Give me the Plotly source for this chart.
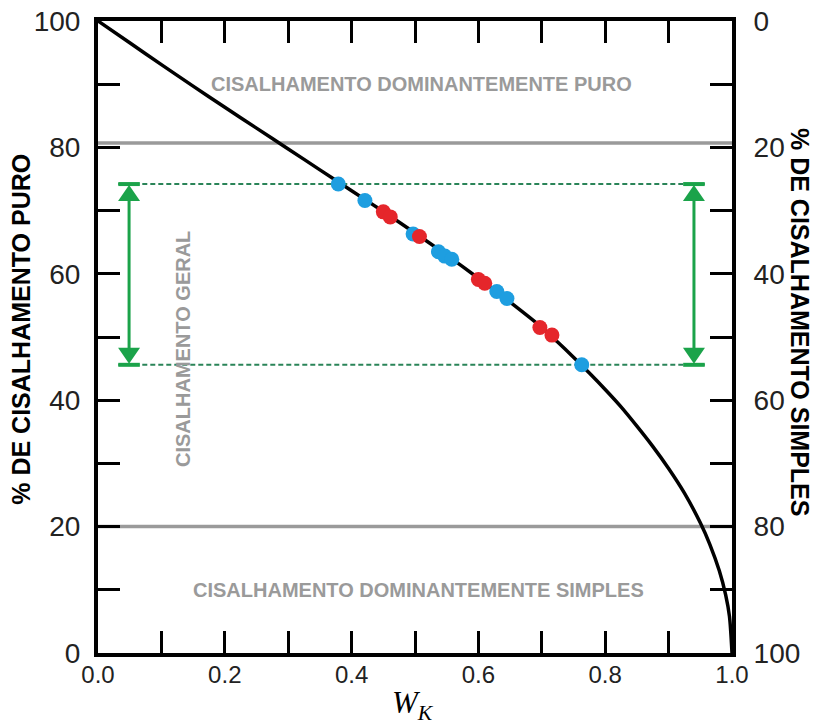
import plotly.graph_objects as go

# ---- data ----
curve_wk = [0.0, 0.05, 0.10, 0.15, 0.20, 0.25, 0.30, 0.35, 0.40, 0.45, 0.50, 0.55,
            0.60, 0.65, 0.70, 0.725, 0.75, 0.775, 0.80, 0.825, 0.85, 0.875, 0.90, 0.925,
            0.95, 0.965, 0.98, 0.99, 0.996, 1.0]
curve_pct = [100.0, 96.55, 93.1, 89.7, 86.35, 83.05, 79.75, 76.45, 73.15, 69.85, 66.45, 62.95,
             59.3, 55.5, 51.5, 49.2, 46.8, 44.3, 41.7, 38.95, 35.9, 32.7, 29.2, 25.3,
             20.6, 17.2, 13.0, 9.2, 5.8, 0.0]

blue_wk = [0.379, 0.421, 0.497, 0.537, 0.547, 0.558, 0.629, 0.645, 0.763]
blue_pct = [74.2, 71.6, 66.3, 63.5, 62.8, 62.3, 57.2, 56.1, 45.6]
red_wk = [0.450, 0.461, 0.507, 0.600, 0.610, 0.697, 0.716]
red_pct = [69.8, 69.0, 65.9, 59.1, 58.5, 51.5, 50.3]

pure_limit = 80.7
simple_limit = 20.0

x_ticks = [0.0, 0.2, 0.4, 0.6, 0.8, 1.0]
x_tick_labels = ["0.0", "0.2", "0.4", "0.6", "0.8", "1.0"]
y_ticks = [0, 20, 40, 60, 80, 100]

BLUE = "#1E9EE0"
RED = "#E5262B"
GREEN = "#1BA34A"
DGREEN = "#2A8458"
GRAY = "#9A9A9A"

# combine dots, ordered along the curve
pts = sorted([(w, p, BLUE) for w, p in zip(blue_wk, blue_pct)] +
             [(w, p, RED) for w, p in zip(red_wk, red_pct)])
top = max(blue_pct + red_pct)
bottom = min(blue_pct + red_pct)

fig = go.Figure()

fig.add_trace(go.Scatter(x=curve_wk, y=curve_pct, mode="lines",
                         line=dict(color="black", width=3.5, shape="spline", smoothing=0.8),
                         hoverinfo="skip", showlegend=False))

# green dashed range lines
for yv in (top, bottom):
    fig.add_trace(go.Scatter(x=[0.032, 0.957], y=[yv, yv], mode="lines",
                             line=dict(color=DGREEN, width=2, dash="5px,3px"), showlegend=False, hoverinfo="skip"))

fig.add_trace(go.Scatter(x=[p[0] for p in pts], y=[p[1] for p in pts], mode="markers",
                         marker=dict(size=15, color=[p[2] for p in pts], line=dict(width=0)),
                         showlegend=False))

# invisible trace for right axis
fig.add_trace(go.Scatter(x=[0, 1], y=[100 - curve_pct[0], 100 - curve_pct[-1]], yaxis="y2",
                         mode="lines", line=dict(width=0), opacity=0, showlegend=False, hoverinfo="skip"))

shapes = []
for yv in (pure_limit, simple_limit):
    shapes.append(dict(type="line", xref="x", yref="y", x0=0, x1=1, y0=yv, y1=yv,
                       line=dict(color=GRAY, width=3.5), layer="below"))

for ax in (0.049, 0.940):
    for yv in (top, bottom):
        shapes.append(dict(type="line", xref="x", yref="y", x0=ax - 0.017, x1=ax + 0.017, y0=yv, y1=yv,
                           line=dict(color=GREEN, width=4)))
    shapes.append(dict(type="line", xref="x", yref="y", x0=ax, x1=ax, y0=top - 2, y1=bottom + 2,
                       line=dict(color=GREEN, width=3)))
    shapes.append(dict(type="path", xref="x", yref="y", xsizemode="pixel", ysizemode="pixel",
                       xanchor=ax, yanchor=top, path="M0,-1 L-11,-17 L11,-17 Z",
                       fillcolor=GREEN, line=dict(width=0)))
    shapes.append(dict(type="path", xref="x", yref="y", xsizemode="pixel", ysizemode="pixel",
                       xanchor=ax, yanchor=bottom, path="M0,1 L-11,17 L11,17 Z",
                       fillcolor=GREEN, line=dict(width=0)))

label_font = dict(family="Liberation Sans", size=20, color=GRAY)
title_font = dict(family="Liberation Sans", size=25, color="black")
common_ann = dict(showarrow=False, xanchor="center", yanchor="middle")
annotations = [
    dict(x=0.511, y=90.0, xref="x", yref="y", text="<b>CISALHAMENTO DOMINANTEMENTE PURO</b>",
         font=label_font, **common_ann),
    dict(x=0.505, y=10.0, xref="x", yref="y", text="<b>CISALHAMENTO DOMINANTEMENTE SIMPLES</b>",
         font=label_font, **common_ann),
    dict(x=0.134, y=48.1, xref="x", yref="y", text="<b>CISALHAMENTO GERAL</b>", textangle=-90,
         font=label_font, **common_ann),
    dict(x=-0.1215, y=0.513, xref="paper", yref="paper", text="<b>% DE CISALHAMENTO PURO</b>", textangle=-90,
         font=title_font, **common_ann),
    dict(x=1.107, y=0.524, xref="paper", yref="paper", text="<b>% DE CISALHAMENTO SIMPLES</b>", textangle=90,
         font=title_font, **common_ann),
    dict(x=0.497, y=-0.082, xref="paper", yref="paper", text="<i>W</i><sub><i>K</i></sub>",
         font=dict(family="Liberation Serif", size=31, color="black"), **common_ann),
]

tick_common = dict(ticks="inside", ticklen=22, tickwidth=3, tickcolor="black", automargin=False,
                   ticklabeloverflow="allow",
                   showline=True, linewidth=4, linecolor="black", showgrid=False, zeroline=False)
minor_y = dict(dtick=10, ticks="inside", ticklen=22, tickwidth=3, tickcolor="black")

fig.update_layout(
    width=820, height=726,
    margin=dict(l=98, r=88, t=21, b=73),
    paper_bgcolor="white", plot_bgcolor="white",
    shapes=shapes, annotations=annotations,
    xaxis=dict(range=[0, 1], tickvals=x_ticks, ticktext=x_tick_labels, mirror="ticks",
               minor=dict(dtick=0.1, ticks="inside", ticklen=22, tickwidth=3, tickcolor="black"),
               tickfont=dict(family="Liberation Sans", size=24, color="#222"), ticklabelstandoff=-3,
               **tick_common),
    yaxis=dict(range=[0, 100], tickvals=y_ticks, minor=minor_y,
               tickfont=dict(family="Liberation Sans", size=28, color="#222"), ticklabelstandoff=8,
               **tick_common),
    yaxis2=dict(range=[100, 0], tickvals=y_ticks, overlaying="y", side="right", minor=minor_y,
                tickfont=dict(family="Liberation Sans", size=28, color="#222"), ticklabelstandoff=12,
                **tick_common),
)

fig.write_html("out.html", config={"displayModeBar": False},
               post_script="document.body.style.margin='0';")
